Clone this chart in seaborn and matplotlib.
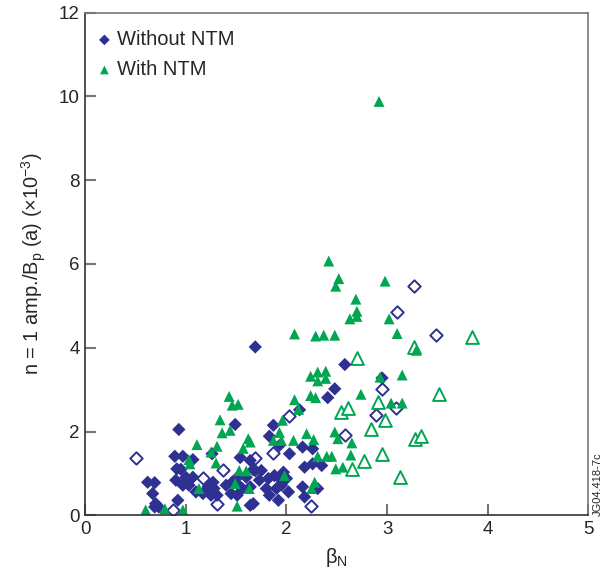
import numpy as np
import pandas as pd
import matplotlib
matplotlib.use('Agg')
import matplotlib.pyplot as plt
import seaborn as sns

# ============================
# Data
# ============================

# Without NTM, filled diamonds
wo_beta = [1.69, 2.58, 2.48, 2.41, 2.95, 2.13, 1.87, 1.83, 1.93, 2.16, 2.26, 2.03,
           0.93, 1.49, 1.26, 0.89, 0.97, 1.07, 0.91, 0.95, 0.90, 1.00, 0.97, 1.03,
           1.07, 1.10, 1.17, 1.22, 1.27, 1.25, 1.31, 1.28, 1.40, 1.46, 1.45, 1.51,
           1.56, 1.54, 1.64, 1.67, 1.50, 1.60, 1.54, 1.64, 1.73, 1.69, 1.75, 1.82,
           1.88, 1.97, 1.95, 2.00, 1.80, 1.90, 1.95, 2.02, 1.83, 1.92, 1.67, 1.64,
           2.18, 2.26, 2.35, 2.16, 2.18, 2.31, 0.62, 0.69, 0.67, 0.70, 0.69, 0.73,
           0.92]
wo_amp = [4.02, 3.60, 3.02, 2.81, 3.28, 2.52, 2.15, 1.89, 1.67, 1.63, 1.59, 1.47,
          2.05, 2.17, 1.47, 1.41, 1.41, 1.33, 1.11, 1.10, 0.84, 0.91, 0.72, 0.72,
          0.91, 0.56, 0.52, 0.68, 0.79, 0.48, 0.48, 0.64, 0.72, 0.79, 0.52, 0.48,
          0.64, 1.38, 1.31, 1.09, 0.88, 0.91, 0.68, 0.68, 0.84, 1.07, 1.07, 0.88,
          0.95, 1.03, 0.84, 0.88, 0.64, 0.64, 0.72, 0.56, 0.48, 0.36, 0.28, 0.24,
          1.15, 1.23, 1.19, 0.68, 0.44, 0.64, 0.79, 0.78, 0.52, 0.28, 0.20, 0.20,
          0.36]

# Without NTM, open diamonds
wo_open_beta = [3.27, 3.10, 3.49, 2.95, 3.09, 2.89, 2.03, 2.58, 1.87, 1.69, 2.24,
                0.50, 0.87, 1.17, 1.37, 1.31]
wo_open_amp = [5.47, 4.86, 4.30, 3.01, 2.56, 2.39, 2.36, 1.91, 1.50, 1.38, 0.22,
               1.37, 0.14, 0.89, 1.09, 0.26]

# With NTM, filled triangles
w_beta = [2.92, 2.42, 2.52, 2.49, 2.98, 2.69, 2.70, 2.70, 2.63, 3.02, 2.08, 2.29,
          2.37, 2.48, 3.10, 3.29, 2.24, 2.31, 2.39, 2.31, 2.39, 3.15, 2.93, 2.74,
          2.24, 2.29, 2.08, 2.12, 1.96, 1.93, 1.87, 1.95, 2.07, 2.20, 2.27, 2.48,
          2.51, 2.65, 3.04, 3.15, 2.64, 2.31, 2.40, 2.45, 2.49, 2.56, 1.98, 2.28,
          2.25, 1.63, 1.43, 1.46, 1.52, 1.34, 1.36, 1.44, 1.11, 1.62, 1.64, 1.31,
          1.57, 1.30, 1.03, 1.04, 1.25, 1.13, 1.49, 1.53, 1.60, 1.51, 0.60, 0.79,
          0.97]
w_amp = [9.88, 6.07, 5.65, 5.47, 5.59, 5.16, 4.87, 4.75, 4.69, 4.69, 4.33, 4.28,
         4.30, 4.30, 4.34, 3.94, 3.32, 3.42, 3.44, 3.21, 3.27, 3.35, 3.30, 2.89,
         2.86, 2.81, 2.76, 2.53, 2.27, 1.98, 1.79, 1.79, 1.79, 1.95, 1.81, 1.99,
         1.83, 1.73, 2.68, 2.68, 1.44, 1.41, 1.41, 1.41, 1.11, 1.15, 0.95, 0.79,
         0.64, 0.64, 2.84, 2.63, 2.65, 2.28, 1.97, 2.03, 1.69, 1.83, 1.75, 1.65,
         1.60, 1.25, 1.33, 1.23, 1.51, 0.64, 0.76, 1.07, 1.06, 0.22, 0.13, 0.16,
         0.13]

# With NTM, open triangles
w_open_beta = [3.84, 3.27, 2.70, 3.52, 2.91, 2.54, 2.61, 2.98, 2.84, 3.28, 3.34,
               2.95, 2.77, 2.65, 3.13]
w_open_amp = [4.26, 4.03, 3.75, 2.90, 2.70, 2.47, 2.56, 2.27, 2.05, 1.83, 1.89,
              1.47, 1.29, 1.10, 0.91]

blue = '#2e3192'
green = '#00a651'

# ============================
# Plot
# ============================

sns.set_style('ticks')
plt.rcParams['font.family'] = ['Liberation Sans', 'DejaVu Sans']
plt.rcParams['mathtext.default'] = 'regular'

fig = plt.figure(figsize=(6.09, 5.72), dpi=100)
ax = fig.add_axes([0.140, 0.099, 0.826, 0.879])

sns.scatterplot(x=wo_open_beta, y=wo_open_amp, marker='D', s=40, ax=ax,
                facecolor='white', edgecolor=blue, linewidth=1.4)
sns.scatterplot(x=w_open_beta, y=w_open_amp, marker='^', s=85, ax=ax,
                facecolor='white', edgecolor=green, linewidth=1.4)
sns.scatterplot(x=wo_beta, y=wo_amp, marker='D', s=46, ax=ax,
                color=blue, edgecolor='none', label='Without NTM')
sns.scatterplot(x=w_beta, y=w_amp, marker='^', s=62, ax=ax,
                color=green, edgecolor='none', label='With NTM')

ax.set_xlim(0, 5)
ax.set_ylim(0, 12)
ax.set_xticks([0, 1, 2, 3, 4, 5])
ax.set_yticks([0, 2, 4, 6, 8, 10, 12])
ax.tick_params(direction='in', length=8, width=1.5, color='#777777',
               labelsize=13.5, pad=4)

for side in ['top', 'right']:
    ax.spines[side].set_color('#777777')
for side in ['left', 'bottom']:
    ax.spines[side].set_color('#333333')
for sp in ax.spines.values():
    sp.set_linewidth(1.2)

ax.set_xlabel(r'$\beta_N$', fontsize=14.5, labelpad=6)
ax.set_ylabel(r'n = 1 amp./B$_p$ (a) ($\times$10$^{-3}$)', fontsize=14.4, labelpad=8)

ax.legend(loc='upper left', bbox_to_anchor=(-0.012, 0.993), frameon=False,
          fontsize=14.5, handletextpad=0.1, handlelength=1.1, labelspacing=0.55,
          markerscale=0.8, borderaxespad=0.3)

fig.text(0.981, 0.153, 'JG04.418-7c', rotation=90, fontsize=8,
         ha='center', va='center')

fig.savefig('out.png', dpi=100)
